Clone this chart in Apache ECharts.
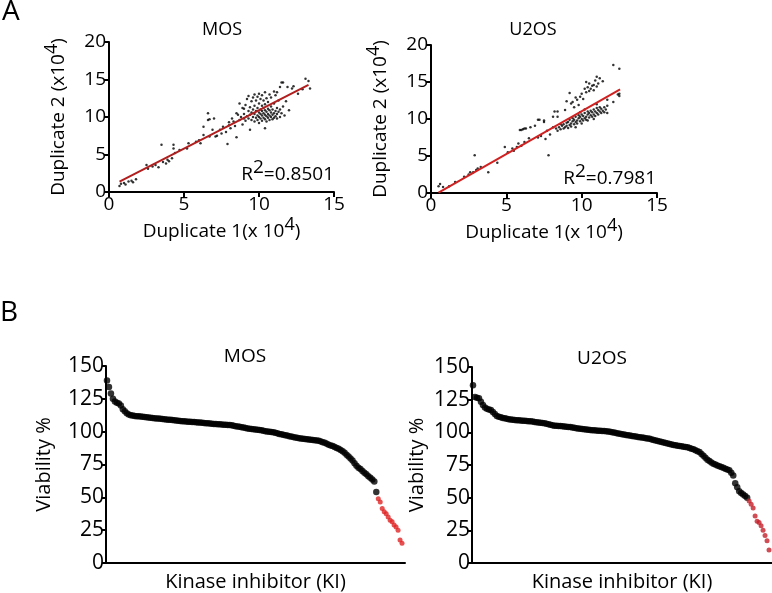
<!DOCTYPE html>
<html><head><meta charset="utf-8">
<script src="https://cdn.jsdelivr.net/npm/echarts@6/dist/echarts.min.js"></script>
<style>html,body{margin:0;padding:0;background:#fff}#c{width:772px;height:593px}</style>
</head><body><div id="c"></div>
<script>
// ---------- DATA ----------
const scatterTitles = ['MOS', 'U2OS'];
const r2Labels = ['0.8501', '0.7981'];
const dupXTicks = [0, 5, 10, 15];
const dupYTicks = [0, 5, 10, 15, 20];
const viabTicks = [0, 25, 50, 75, 100, 125, 150];

const mosScatter = [
 [0.7,0.8],[0.8,1.1],[1.0,1.2],[1.1,1.0],[1.3,1.4],[1.5,1.5],[1.6,1.3],[1.8,1.7],[2.5,3.6],[2.6,3.1],
 [2.9,3.4],[3.1,3.6],[3.3,3.3],[3.5,6.3],[3.6,4.0],[3.8,3.8],[3.9,4.3],[4.0,4.1],[4.2,4.5],[4.3,6.3],
 [4.3,5.8],[4.4,5.2],[4.7,5.6],[5.2,5.8],[5.3,6.5],[5.8,6.7],[6.0,6.9],[6.1,6.5],[6.3,7.6],[6.3,8.7],
 [6.6,10.5],[6.6,9.6],[6.7,7.4],[6.7,9.7],[6.9,8.3],[7.0,9.8],[7.1,7.4],[7.2,7.5],[7.4,8.3],[7.5,7.8],
 [7.6,8.7],[7.8,8.0],[7.9,6.4],[8.0,8.9],[8.1,8.5],[8.3,9.4],[8.4,8.8],[8.5,7.3],[8.6,10.3],[8.7,11.8],
 [8.7,9.6],[8.9,11.2],[8.9,9.0],[9.0,9.8],[8.2,9.8],[8.5,10.5],[8.0,9.3],[8.8,10.0],[9.0,11.1],
 [9.0,10.4],[9.1,9.5],[9.1,11.6],[9.2,10.1],[9.2,12.4],[9.3,9.8],[9.3,10.8],[9.3,12.8],[9.4,8.3],[9.4,10.3],
 [9.4,11.3],[9.5,9.6],[9.5,10.6],[9.5,12.1],[9.6,10.0],[9.6,11.0],[9.6,12.6],[9.7,9.4],[9.7,10.4],[9.7,11.5],
 [9.7,13.0],[9.8,9.9],[9.8,10.8],[9.8,12.2],[9.9,9.6],[9.9,10.2],[9.9,11.2],[9.9,12.7],[10.0,9.2],[10.0,10.0],
 [10.0,10.6],[10.0,11.8],[10.0,13.1],[10.1,9.8],[10.1,10.4],[10.1,11.0],[10.1,12.4],[10.2,9.5],[10.2,10.2],[10.2,10.8],
 [10.2,11.5],[10.2,12.9],[10.3,9.9],[10.3,10.5],[10.3,11.2],[10.3,12.2],[10.4,8.5],[10.4,9.7],[10.4,10.3],[10.4,10.9],
 [10.4,11.7],[10.4,13.3],[10.5,9.4],[10.5,10.1],[10.5,10.7],[10.5,12.5],[10.6,9.9],[10.6,10.4],[10.6,11.1],[10.6,12.0],
 [10.7,9.6],[10.7,10.2],[10.7,10.9],[10.7,13.0],[10.8,10.0],[10.8,10.6],[10.8,11.4],[10.8,12.6],[10.9,9.7],[10.9,10.3],
 [10.9,11.0],[11.0,9.9],[11.0,10.5],[11.0,11.8],[11.0,13.4],[11.1,10.1],[11.1,10.8],[11.1,12.9],[11.2,9.8],[11.2,10.4],
 [11.2,11.2],[11.2,13.3],[11.3,10.7],[11.3,12.2],[11.4,10.0],[11.4,11.0],[11.4,14.0],[11.5,10.5],[11.5,14.6],[11.6,14.6],
 [11.6,11.4],[11.7,10.2],[11.8,12.1],[11.9,14.0],[12.0,10.9],[12.2,13.8],[12.3,14.1],[12.6,13.1],[13.1,15.1],[13.3,14.8],
 [13.4,13.8],[12.9,13.7]
];
const u2osScatter = [
 [0.5,0.9],[0.6,1.2],[0.8,0.8],[1.2,0.9],[1.6,1.5],[2.2,2.2],[2.5,2.5],[2.6,2.8],[2.8,2.8],[2.9,5.1],
 [3.0,3.1],[3.1,3.3],[3.3,3.5],[3.8,2.8],[4.4,4.1],[4.9,6.2],[5.1,5.5],[5.4,6.0],[5.5,5.7],[5.7,6.2],
 [5.8,6.7],[6.0,6.4],[6.2,6.9],[6.5,7.4],[5.9,8.5],[6.1,8.6],[6.3,8.7],[6.6,8.9],[6.9,9.1],[7.1,9.9],
 [7.5,9.8],[7.8,5.1],[7.1,7.5],[7.3,7.7],[7.6,7.3],[7.7,8.4],[7.9,7.9],[8.1,8.9],[8.2,11.0],[8.3,8.7],
 [8.6,9.3],[7.2,9.9],[7.5,9.6],[6.0,8.5],[6.2,8.7],[8.4,10.3],[8.1,10.3],[8.4,11.0],
 [8.4,8.4],[8.5,8.9],[8.6,8.6],[8.7,9.1],[8.8,8.7],[8.8,9.3],[8.9,8.9],[9.0,9.5],[9.0,9.1],[9.1,8.8],
 [9.1,9.6],[9.2,9.2],[9.2,9.9],[9.3,9.4],[9.3,9.0],[9.4,9.7],[9.4,10.1],[9.5,9.3],[9.5,9.9],[9.6,9.6],
 [9.6,10.3],[9.7,9.8],[9.7,9.4],[9.8,10.1],[9.8,10.5],[9.9,9.7],[9.9,10.3],[10.0,10.0],[10.0,10.6],[10.1,9.8],
 [10.1,10.4],[10.2,10.1],[10.2,10.8],[10.3,10.3],[10.3,9.9],[10.4,10.6],[10.4,11.0],[10.5,10.2],[10.5,10.8],[10.6,10.5],
 [10.6,11.1],[10.7,10.3],[10.7,10.9],[10.8,10.6],[10.8,11.3],[10.9,10.4],[10.9,11.0],[11.0,10.8],[11.0,11.5],[11.1,10.6],
 [11.1,11.2],[11.2,11.0],[11.2,11.6],[11.3,10.8],[11.3,11.4],[11.4,11.1],[11.5,11.6],[11.5,10.9],[11.6,11.3],[11.7,10.8],
 [11.7,11.8],[12.1,12.3],[12.5,13.1],[10.0,9.4],[10.4,9.8],[10.8,10.0],[9.6,8.9],[10.2,11.3],[9.9,10.9],[11.0,12.0],
 [8.9,11.2],[9.0,12.4],[9.2,13.5],[9.3,12.1],[9.4,12.3],[9.6,12.9],[9.7,12.6],[9.9,13.0],[10.0,13.4],[10.1,12.7],
 [10.2,14.1],[10.3,13.6],[10.3,15.0],[10.4,14.3],[10.5,13.8],[10.5,14.8],[10.6,14.1],[10.7,14.5],[10.8,14.6],[10.8,13.9],
 [10.9,15.2],[11.0,14.4],[11.0,15.7],[11.1,14.8],[11.2,15.5],[11.4,15.1],[11.7,12.6],[12.4,13.3],[12.1,17.3],[12.5,16.8],
 [12.5,13.4],[9.5,11.6],[9.8,11.9]
];
const mosFit = [[0.7,1.37],[13.3,14.27]];
const u2osFit = [[0.5,0.05],[12.55,14.0]];

const mosViab = [
 139,134,129,125,123,122,121.5,120,117,115.5,114,113,
 112.5,112.3,112,111.8,111.7,111.5,111.4,111.2,111,110.8,
 110.6,110.5,110.3,110.1,110,109.8,109.6,109.5,109.3,109.1,
 109,108.8,108.6,108.5,108.3,108.1,108,107.9,107.8,107.6,
 107.5,107.4,107.3,107.1,107,106.9,106.8,106.6,106.5,106.4,
 106.2,106,105.9,105.8,105.7,105.6,105.5,105.3,105.2,105.1,
 105,104.8,104.5,104.2,104,103.7,103.4,103.1,102.8,102.5,
 102.3,102.1,101.9,101.7,101.5,101.3,101,100.7,100.4,100.1,
 99.9,99.7,99.5,99.1,98.7,98.3,98,97.6,97.3,97,
 96.6,96.3,96,95.6,95.3,95,94.8,94.6,94.4,94.2,
 94,93.8,93.6,93.4,93.2,93,92.5,92,91.5,90.8,
 90,89.5,89,88.3,87.6,87,86,85,84,82.5,
 81,79.5,78,76,74,72.5,71.5,70,68.8,67.5,
 66,65,63.5,62,54
];
const mosHits = [49,46.5,41.5,39,37.5,35,32.5,31.5,29,27.5,25,17.5,15];

const u2osViab = [
 136,127,126.5,126,123.5,121,119,118,117.5,117,
 115.5,114,112.5,112,111.5,111,110.7,110.4,110.1,109.9,
 109.7,109.5,109.3,109.2,109,108.9,108.8,108.6,108.5,108.4,
 108.2,108,107.8,107.6,107.4,107.2,107,106.6,106.2,105.8,
 105.4,105.1,105,104.9,104.8,104.6,104.5,104.3,104.1,104,
 103.7,103.5,103.2,103,102.8,102.5,102.3,102.1,101.9,101.7,
 101.6,101.5,101.4,101.3,101.2,101.1,101,100.8,100.6,100.4,
 100.1,99.8,99.5,99.2,98.9,98.6,98.3,98,97.8,97.5,
 97.2,97,96.8,96.5,96.3,96,95.8,95.5,95.3,95,
 94.6,94.2,93.8,93.4,93,92.6,92.2,91.8,91.4,91,
 90.7,90.4,90.1,89.8,89.5,89.3,89,88.8,88.5,88,
 87.5,87,86.3,85.6,85,83.5,82,80.5,79,78,
 77,76,75.3,74.6,74,73.4,72.8,72.2,71.5,71,
 69,67,61,58,55,53.5,52.5,51.3,50
];
const u2osHits = [47.5,45,42,36,32,31,28.5,25,21,17,10];

// ---------- CHART ----------
const FONT = 'Open Sans';
const chart = echarts.init(document.getElementById('c'), null, {renderer: 'canvas'});
const supRich = {
  sup: {fontSize: 18, fontFamily: FONT, color: '#000', padding: [0, 0, 14, 0]}
};
function lineStyle() { return {color: '#000', width: 2}; }
function dupX(grid) {
  return {
    gridIndex: grid, type: 'value', min: dupXTicks[0], max: dupXTicks[dupXTicks.length - 1], interval: 5,
    axisLine: {show: true, onZero: false, lineStyle: lineStyle()},
    axisTick: {show: true, length: 5, lineStyle: lineStyle()},
    axisLabel: {color: '#000', fontSize: 19, fontFamily: FONT, margin: 3},
    splitLine: {show: false},
    name: 'Duplicate 1(x 10{sup|4})', nameLocation: 'middle', nameGap: 24,
    nameTextStyle: {color: '#000', fontSize: 19, fontFamily: FONT, rich: supRich}
  };
}
function dupY(grid) {
  return {
    gridIndex: grid, type: 'value', min: dupYTicks[0], max: dupYTicks[dupYTicks.length - 1], interval: 5,
    axisLine: {show: true, onZero: false, lineStyle: lineStyle()},
    axisTick: {show: true, length: 5, lineStyle: lineStyle()},
    axisLabel: {color: '#000', fontSize: 19, fontFamily: FONT, margin: 3},
    splitLine: {show: false},
    name: 'Duplicate 2 (x10{sup|4})', nameLocation: 'middle', nameGap: 34,
    nameTextStyle: {color: '#000', fontSize: 19, fontFamily: FONT, rich: supRich}
  };
}
function kiX(grid, n) {
  return {
    gridIndex: grid, type: 'value', min: -0.5, max: n + 0.5,
    axisLine: {show: true, onZero: false, lineStyle: lineStyle()},
    axisTick: {show: false}, axisLabel: {show: false}, splitLine: {show: false},
    name: 'Kinase inhibitor (KI)', nameLocation: 'middle', nameGap: 9,
    nameTextStyle: {color: '#000', fontSize: 20, fontFamily: FONT, verticalAlign: 'top'}
  };
}
function viabY(grid, gap) {
  return {
    gridIndex: grid, type: 'value', min: viabTicks[0], max: viabTicks[viabTicks.length - 1], interval: 25,
    axisLine: {show: true, onZero: false, lineStyle: lineStyle()},
    axisTick: {show: true, length: 4, lineStyle: lineStyle()},
    axisLabel: {color: '#000', fontSize: 21, fontFamily: FONT, margin: 2},
    splitLine: {show: false},
    name: 'Viability %', nameLocation: 'middle', nameGap: gap,
    nameTextStyle: {color: '#000', fontSize: 20, fontFamily: FONT}
  };
}
function indexed(arr, offset) { return arr.map((v, i) => [i + offset, v]); }

const option = {
  backgroundColor: '#fff',
  animation: false,
  title: [
    {text: scatterTitles[0], left: 222, top: 21, textAlign: 'center', padding: 0, textStyle: {fontSize: 18, fontWeight: 'normal', fontFamily: FONT, color: '#000'}},
    {text: scatterTitles[1], left: 533, top: 21, textAlign: 'center', padding: 0, textStyle: {fontSize: 18, fontWeight: 'normal', fontFamily: FONT, color: '#000'}},
    {text: scatterTitles[0], left: 245, top: 347, textAlign: 'center', padding: 0, textStyle: {fontSize: 19, fontWeight: 'normal', fontFamily: FONT, color: '#000'}},
    {text: scatterTitles[1], left: 602, top: 349, textAlign: 'center', padding: 0, textStyle: {fontSize: 19, fontWeight: 'normal', fontFamily: FONT, color: '#000'}}
  ],
  grid: [
    {left: 109, top: 42, width: 225, height: 150},
    {left: 431, top: 45, width: 226, height: 148},
    {left: 106, top: 366, width: 299, height: 199},
    {left: 472, top: 367, width: 300, height: 199}
  ],
  xAxis: [dupX(0), dupX(1), kiX(2, 150), kiX(3, 150)],
  yAxis: [dupY(0), dupY(1), viabY(2, 52), viabY(3, 45)],
  graphic: [
    {type: 'text', left: 2, top: -2, style: {text: 'A', fontSize: 28, fontFamily: FONT, fill: '#000'}},
    {type: 'text', left: 0, top: 299, style: {text: 'B', fontSize: 28, fontFamily: FONT, fill: '#000'}},
    {type: 'text', right: 772 - 334, top: 158, style: {text: '{n|R}{s|2}{n|=' + r2Labels[0] + '}', fill: '#000',
      rich: {n: {fontSize: 19, fontFamily: FONT, color: '#000'}, s: {fontSize: 19, fontFamily: FONT, color: '#000', padding: [0, 0, 14, 0]}}}},
    {type: 'text', right: 772 - 656, top: 162, style: {text: '{n|R}{s|2}{n|=' + r2Labels[1] + '}', fill: '#000',
      rich: {n: {fontSize: 19, fontFamily: FONT, color: '#000'}, s: {fontSize: 19, fontFamily: FONT, color: '#000', padding: [0, 0, 14, 0]}}}}
  ],
  series: [
    {type: 'scatter', xAxisIndex: 0, yAxisIndex: 0, data: mosScatter, symbolSize: 2.5, itemStyle: {color: '#000'}},
    {type: 'line', xAxisIndex: 0, yAxisIndex: 0, data: mosFit, symbol: 'none', lineStyle: {color: '#b01e1e', width: 2}, z: 3},
    {type: 'scatter', xAxisIndex: 1, yAxisIndex: 1, data: u2osScatter, symbolSize: 2.5, itemStyle: {color: '#000'}},
    {type: 'line', xAxisIndex: 1, yAxisIndex: 1, data: u2osFit, symbol: 'none', lineStyle: {color: '#d02020', width: 2}, z: 3},
    {type: 'scatter', xAxisIndex: 2, yAxisIndex: 2, data: indexed(mosViab, 0), symbolSize: 6.5, itemStyle: {color: '#000'}},
    {type: 'scatter', xAxisIndex: 2, yAxisIndex: 2, data: indexed(mosHits, mosViab.length), symbolSize: 5, itemStyle: {color: '#e02424'}},
    {type: 'scatter', xAxisIndex: 3, yAxisIndex: 3, data: indexed(u2osViab, 0), symbolSize: 6.5, itemStyle: {color: '#000'}},
    {type: 'scatter', xAxisIndex: 3, yAxisIndex: 3, data: indexed(u2osHits, u2osViab.length), symbolSize: 5, itemStyle: {color: '#c4212b'}}
  ]
};
chart.setOption(option);
</script>
</body></html>
